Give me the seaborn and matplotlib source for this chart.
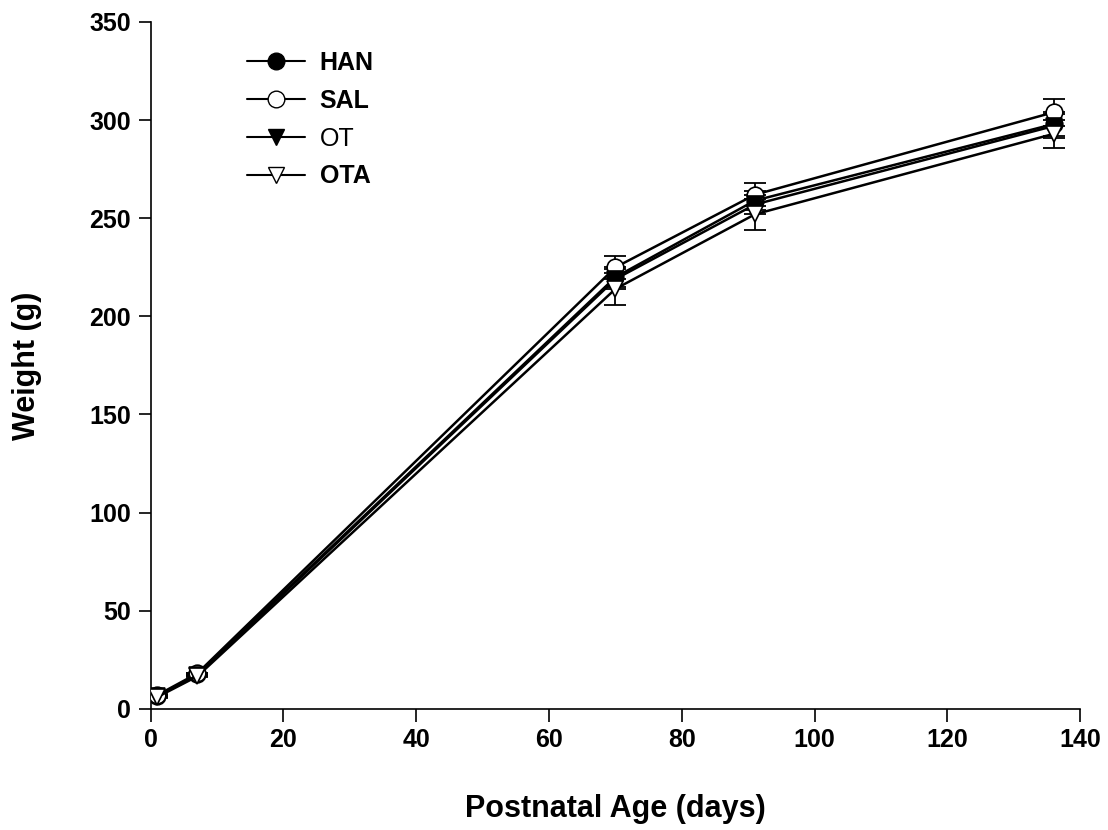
import matplotlib
matplotlib.use("Agg")
import matplotlib.pyplot as plt
import seaborn as sns
import pandas as pd
from matplotlib.lines import Line2D

# postnatal days and group means / SEM (g)
days = [1, 7, 70, 91, 136]
han = [6.5, 17.5, 220, 259, 298]
sal = [7.0, 18.0, 225, 262, 304]
ot = [6.5, 17.0, 219, 257, 297]
ota = [6.0, 16.5, 214, 252, 293]
han_sem = [0.3, 0.5, 5, 5, 6]
sal_sem = [0.3, 0.5, 6, 6, 7]
ot_sem = [0.3, 0.5, 5, 5, 6]
ota_sem = [0.3, 0.5, 8, 8, 7]

groups = ["HAN", "SAL", "OT", "OTA"]
means = {"HAN": han, "SAL": sal, "OT": ot, "OTA": ota}
sems = {"HAN": han_sem, "SAL": sal_sem, "OT": ot_sem, "OTA": ota_sem}

style = {
    "HAN": dict(marker="o", mfc="black"),
    "SAL": dict(marker="o", mfc="white"),
    "OT": dict(marker="v", mfc="black"),
    "OTA": dict(marker="v", mfc="white"),
}

sns.set_style("ticks")
plt.rcParams["font.family"] = ["Liberation Sans", "DejaVu Sans"]
for key in ["text.color", "axes.labelcolor", "xtick.color", "ytick.color", "axes.edgecolor"]:
    plt.rcParams[key] = "black"

fig, ax = plt.subplots(figsize=(11.08, 8.3), dpi=100)
fig.subplots_adjust(left=0.136, right=0.975, bottom=0.146, top=0.9735)

for g in groups:
    df = pd.DataFrame({"day": days, "weight": means[g]})
    ax.errorbar(days, means[g], yerr=sems[g], fmt="none", ecolor="black",
                elinewidth=1.3, capsize=8, capthick=1.3, zorder=2)
    sns.lineplot(data=df, x="day", y="weight", ax=ax, color="black",
                 linewidth=1.8, marker=style[g]["marker"], markersize=12,
                 markerfacecolor=style[g]["mfc"], markeredgecolor="black",
                 markeredgewidth=1.2, zorder=3)

ax.set_xlim(0, 140)
ax.set_ylim(0, 350)
ax.set_xticks(range(0, 141, 20))
ax.set_yticks(range(0, 351, 50))
ax.tick_params(direction="out", length=9, width=1.2, labelsize=18, pad=5)
for lab in ax.get_xticklabels() + ax.get_yticklabels():
    lab.set_fontweight("bold")
for s in ["top", "right"]:
    ax.spines[s].set_visible(False)
for s in ["left", "bottom"]:
    ax.spines[s].set_linewidth(1.2)

ax.set_xlabel("Postnatal Age (days)", fontsize=22, fontweight="bold", labelpad=30)
ax.set_ylabel("Weight (g)", fontsize=22, fontweight="bold", labelpad=34)

handles = [Line2D([], [], color="black", linewidth=1.5, marker=style[g]["marker"],
                  markersize=12, markerfacecolor=style[g]["mfc"],
                  markeredgecolor="black") for g in groups]
leg = ax.legend(handles, groups, loc="upper left", bbox_to_anchor=(0.093, 0.972),
                borderaxespad=0, frameon=False, fontsize=18, handlelength=2.3,
                handletextpad=0.6, labelspacing=0.55)
for t in leg.get_texts():
    if t.get_text() != "OT":
        t.set_fontweight("bold")

fig.savefig("out.png", dpi=100)
